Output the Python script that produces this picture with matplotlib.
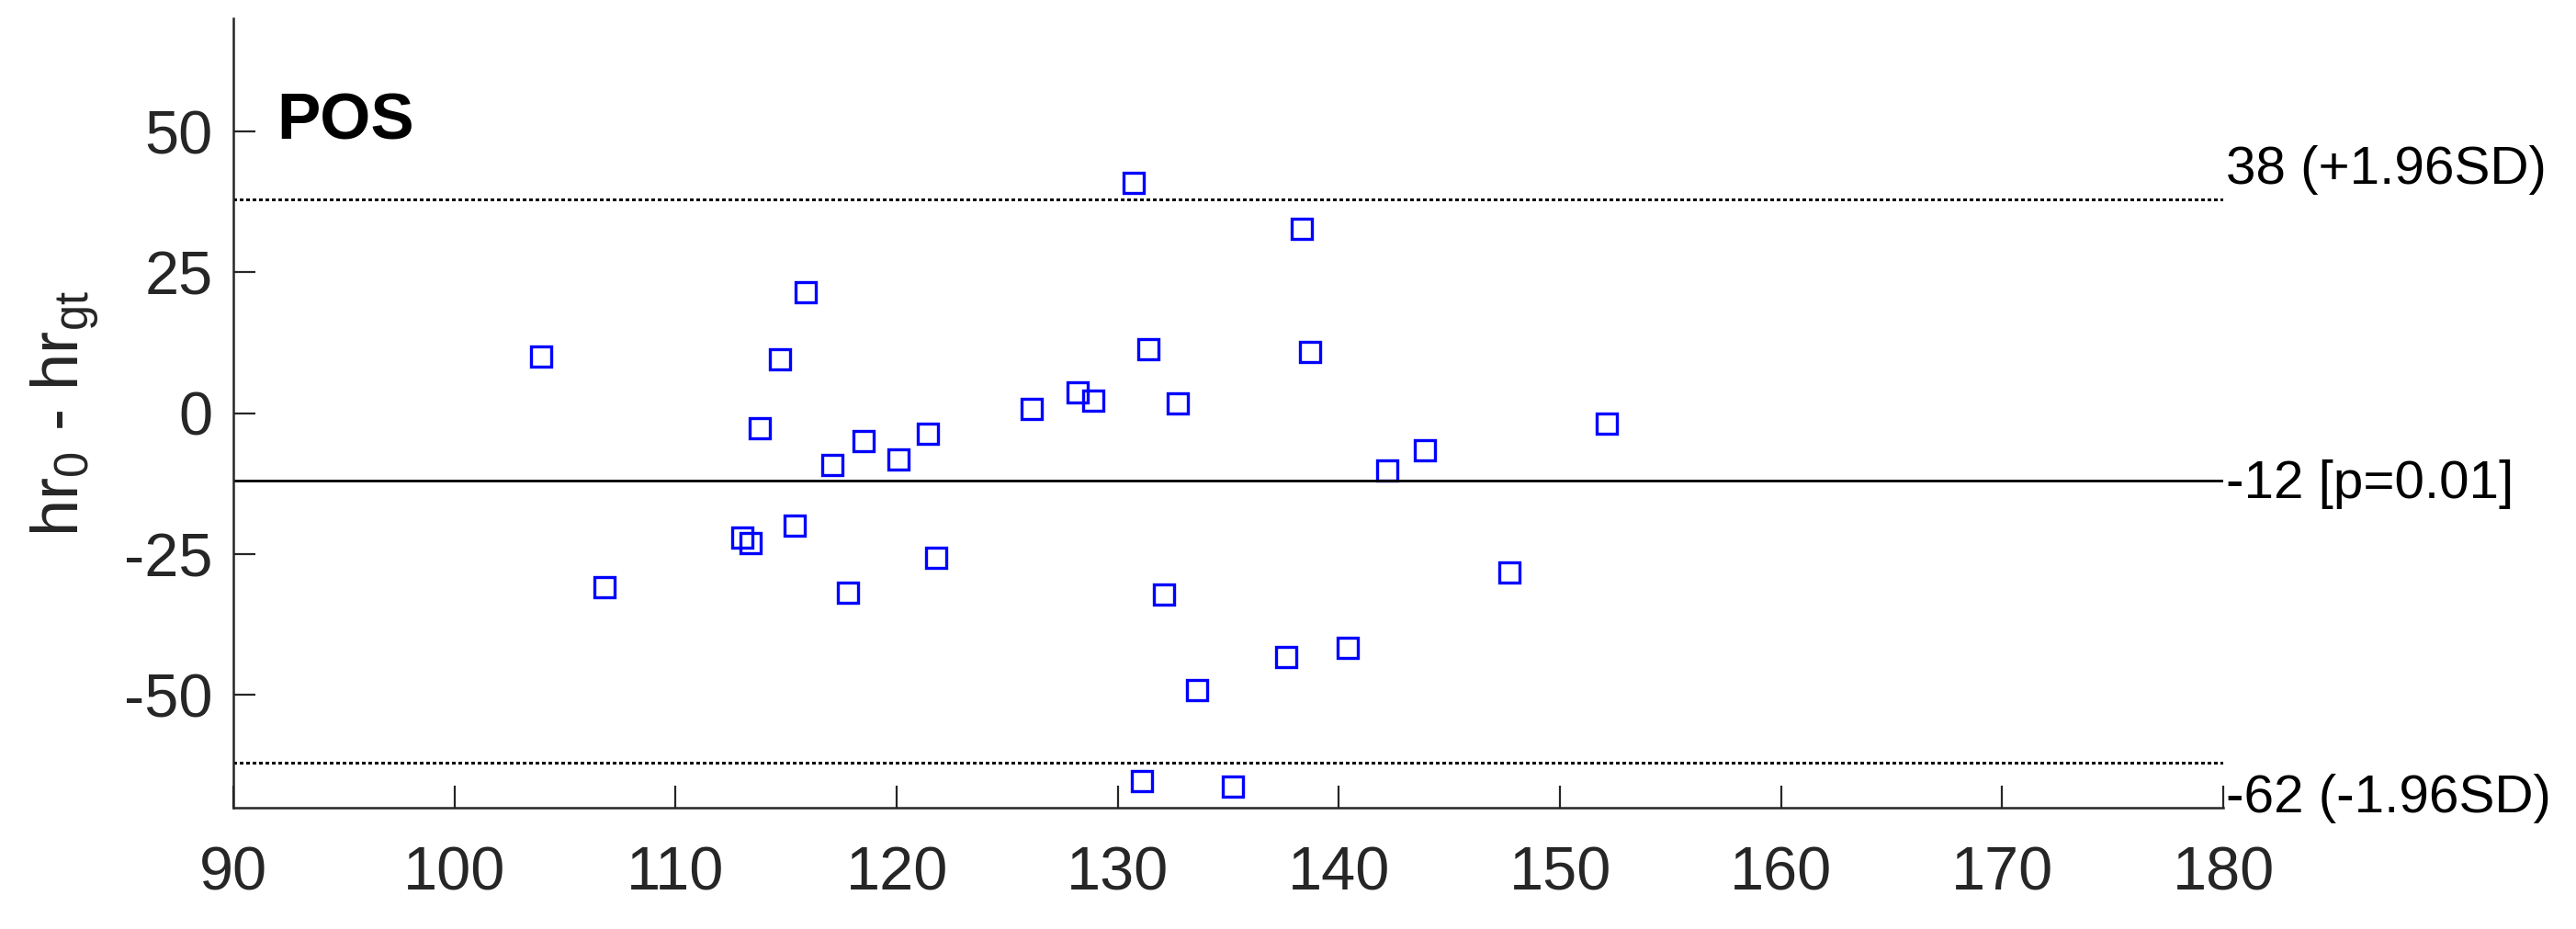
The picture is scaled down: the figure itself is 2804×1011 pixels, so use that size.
import matplotlib
matplotlib.use("Agg")
import matplotlib.pyplot as plt
import numpy as np

# Bland-Altman data (POS method)
hr_mean = [103.9, 106.8, 115.9, 114.7, 113.8, 113.0, 113.4, 115.4, 117.1, 117.8,
           118.5, 120.1, 121.4, 121.8, 126.1, 128.2, 128.9, 130.7, 131.1, 131.4,
           132.1, 132.7, 133.6, 135.2, 137.6, 138.3, 138.7, 140.4, 142.2, 143.9,
           147.7, 152.1]
hr_diff = [10.1, -30.8, 21.4, 9.6, -2.6, -22.1, -23.0, -19.9, -9.2, -31.8,
           -4.9, -8.2, -3.7, -25.6, 0.8, 3.7, 2.2, 40.8, -65.2, 11.4,
           -32.1, 1.7, -49.2, -66.3, -43.2, 32.7, 10.8, -41.6, -10.1, -6.5,
           -28.2, -1.9]

bias = -12
upper_loa = 38
lower_loa = -62
bias_label = "-12 [p=0.01]"
upper_label = "38 (+1.96SD)"
lower_label = "-62 (-1.96SD)"
method_name = "POS"

xticks = [90, 100, 110, 120, 130, 140, 150, 160, 170, 180]
yticks = [-50, -25, 0, 25, 50]

plt.rcParams['font.family'] = ['Liberation Sans', 'DejaVu Sans']
plt.rcParams['mathtext.fontset'] = 'custom'
plt.rcParams['mathtext.rm'] = 'Liberation Sans'
plt.rcParams['mathtext.it'] = 'Liberation Sans:italic'
plt.rcParams['axes.unicode_minus'] = False

axis_color = '#262626'

fig = plt.figure(figsize=(28.04, 10.11), dpi=100)
ax = fig.add_axes([0.0906, 0.1306, 0.7725, 0.8492])

ax.plot(hr_mean, hr_diff, linestyle='none', marker='s', markersize=16.5,
        markerfacecolor='none', markeredgecolor='#0000ff', markeredgewidth=2.4)

ax.axhline(bias, color='black', lw=2.0)
# limits of agreement, dotted
for loa in (upper_loa, lower_loa):
    ax.axhline(loa, color='black', lw=2.2, linestyle=(0, (1, 1.1)),
               antialiased=False)

ax.set_xlim(90, 180)
ax.set_ylim(-70, 70)
ax.set_xticks(xticks)
ax.set_yticks(yticks)

for s in ['top', 'right']:
    ax.spines[s].set_visible(False)
for s in ['left', 'bottom']:
    ax.spines[s].set_color(axis_color)
    ax.spines[s].set_linewidth(1.8)

ax.tick_params(axis='both', direction='in', length=17, width=1.6,
               colors=axis_color, labelsize=48)
ax.tick_params(axis='x', pad=30)
ax.tick_params(axis='y', pad=16)

ax.set_ylabel(r'hr$_\mathrm{0}$ - hr$_\mathrm{gt}$', fontsize=52, color=axis_color,
              labelpad=18)

ax.text(0.022, 0.847, method_name, transform=ax.transAxes, fontsize=51,
        fontweight='bold', ha='left', va='baseline')

ax.text(180.1, upper_loa + 0.8, upper_label, fontsize=42, ha='left', va='bottom',
        clip_on=False)
ax.text(180.1, bias - 0.6, bias_label, fontsize=42, ha='left', va='center',
        clip_on=False)
ax.text(180.1, lower_loa - 2.0, lower_label, fontsize=42, ha='left', va='top',
        clip_on=False)

fig.savefig('out.png', dpi=100)
